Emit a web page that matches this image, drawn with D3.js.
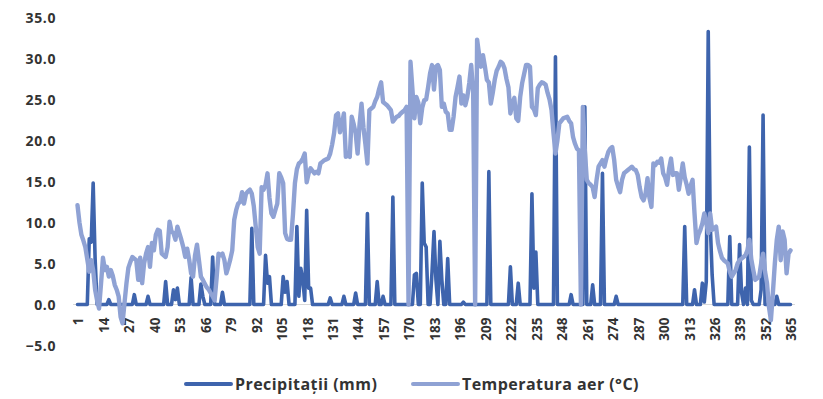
<!DOCTYPE html>
<html>
<head>
<meta charset="utf-8">
<script src="https://cdn.jsdelivr.net/npm/d3@7"></script>
<style>
  html, body { margin: 0; padding: 0; background: #fff; }
  svg text { font-family: "Open Sans", "DejaVu Sans", sans-serif; font-weight: 700; fill: #333; }
</style>
</head>
<body>
<svg id="chart" width="823" height="399"></svg>
<script>
// ---- data ----
const seriesNames = ["Precipitații (mm)", "Temperatura aer (°C)"];
const yTicks = [-5, 0, 5, 10, 15, 20, 25, 30, 35];
const xTickDays = [1,14,27,40,53,66,79,92,105,118,131,144,157,170,183,196,209,222,235,248,261,274,287,300,313,326,339,352,365];

const precipitation = [
  0,0,0,0,0,0,8,7.6,14.8,5.5,
  0,0,0,0,0,0,0.6,0,0,0,
  0,0,0,0,0,0,0,0,0,1.2,
  0,0,0,0,0,0,1,0,0,0,
  0,0,0,0,0,2.8,0,0,0,1.8,
  0.6,2,0,0,0,0,0,0,3.3,0,
  0,0,0,2.5,1,0,0,0,0,5.8,
  0,0,0,0,1.5,0,0,0,0,0,
  0,0,0,0,0,0,0,0,0,9.3,
  0,0,0,0,0,0,6,2.6,3.4,0,
  0,0,0,0,0,3.4,1.5,2.8,0,0,
  0,0,9.5,1,4.4,3,0.5,11.5,2,2,
  0,0,0,0,0,0,0,0,0,0.8,
  0,0,0,0,0,0,1,0,0,0,
  0,0,1.4,0,0,0,0,0,11.1,0,
  0,0,0,2.8,0,0,1,0,0,0,
  0,13.1,0,0,0,0,0,0,0,0,
  0,0,3.6,3.8,0,0,14.8,7.5,7,0,
  0,4,8.9,3,0,7.7,3,0,0,5.6,
  0,0,0,0,0,0,0,0.3,0,0,
  0,0,0,0,0,0,0,0,0,0,
  16.2,0,0,0,0,0,0,0,0,0,
  0,4.6,0,0,0,2.6,0,0,0,0,
  0,0,13.5,2,6.4,0,0,0,0,0,
  0,0,0,0,30.2,0,0,0,0,0,
  0,0,1.2,0,0,0,0,0,0,24.1,
  0,0,0,2.4,0,0,0,0,16,0,
  0,0,0,0,0,1,0,0,0,0,
  0,0,0,0,0,0,0,0,0,0,
  0,0,0,0,0,0,0,0,0,0,
  0,0,0,0,0,0,0,0,0,0,
  9.5,0,0,0,0,1.8,0,0,0,2.6,
  0.3,2.8,33.3,10,3.6,0,0,0,0,0,
  0,0,0,8.3,0,0,0,0,7.3,1.5,
  0,2,0,19.2,0.5,0,0,0,0,1.8,
  23.1,0,0,0,0,0,0,1,0,0,
  0,0,0,0,0
];

const temperature = [
  12.1,10,8.5,7.8,7,5.5,4,5.4,4.2,1.8,
  0.5,-0.5,2.5,5.7,4.2,4.6,3.4,4.2,3.5,2.4,
  1.8,1,-1.5,-2.3,0.2,2.6,4.5,5.2,5.8,5.6,
  5.4,3,5.7,2.6,5,6.2,7,4.6,7.5,6.6,
  8.5,9.1,9,6.2,6,5.8,7,10.1,8.9,8.7,
  7.9,9.5,8.7,7.9,7,5.8,6.8,5.5,3.8,3.4,
  6,7.3,5.4,3.4,3,2.5,2.1,1.8,1.4,1,
  0.5,3.2,6.2,6,6.2,5.4,3.8,4.6,5.5,6.6,
  10.3,11.5,12.3,12.5,13.7,12.3,13.5,13.8,14,13.5,
  12,9.5,7,6.2,14.3,14,14.6,16,13,11.1,
  10.7,11.5,12.3,16,15.5,14.8,8.7,8,7.9,7.9,
  11,14.8,16.5,17.2,17.4,17.8,18.4,14.9,16,16.6,
  16.3,16,16.2,16,17.2,17.4,17.6,17.7,17.8,18.4,
  19.5,20.9,23.1,23.3,21,22,23.3,18,18.2,18,
  22.9,22,20.9,18.4,22,24.5,21.6,19.5,17.2,23.7,
  23.9,24.1,24.8,25.3,26.3,27.1,24.7,24.5,24.3,24,
  23.7,22.3,22.6,22.9,23,23.3,23.5,23.7,24.1,0,
  29.6,26.2,22.7,25.3,24.6,22.1,24,24.9,25,26.5,
  28.2,29.2,26.2,29,29.2,28.6,24.1,24.5,23.5,23.3,
  21.3,21.3,22.9,25.3,26.5,27.8,24.5,25.5,24.3,25.3,
  27,29.2,25.8,0,32.3,30.5,29,30.4,29,27.4,
  27.1,24.5,25.8,27.4,28.5,29,29.6,29.4,28.8,27.5,
  26.5,23.3,24.5,25.2,22.7,22.4,25.3,27,28.1,29.2,
  29.2,29,24.1,23.8,23.1,26.4,26.8,27.1,27,26.8,
  25.8,25,23.7,20.9,18.4,20,22.1,22.4,22.7,22.8,
  22.9,22.4,22.1,20.4,19.6,19,18.8,0,24.1,18.8,
  15.2,14.8,14.6,14.3,13.1,15.2,16.8,17.2,17.6,16.8,
  17.8,18.6,19,19.2,17.6,15.2,14.4,13.7,15.2,16,
  16.2,16.4,16.6,16.8,16.5,16.4,15.8,14.3,13.1,12.7,
  13.5,15.4,13,11.9,17.2,17,17.4,17.3,17.8,16,
  15.5,14.6,16.5,17.8,15.8,16,16,14,15.5,17.2,
  15.5,14.6,13.5,14.5,15.2,11.1,7.5,8.5,9.1,9.9,
  11.1,10,8.7,11.1,9.1,9.3,9.5,7.5,6.5,5.7,
  5.4,5.2,5,4,3.4,3.8,4.2,5,5.4,5.6,
  5.8,6,6.6,7.9,5.5,4.2,3,3.2,3.4,5,
  6.2,4,2.6,-0.3,-1.9,1.4,5,7.9,9.5,5.4,
  8.9,7.9,3.8,6.2,6.6
];

const days = d3.range(1, temperature.length + 1);

// ---- chart ----
const colors = ["#3e64ad", "#8fa2d4"];
const svg = d3.select("#chart");

const x = d3.scaleLinear().domain([1, 365]).range([77.5, 790.5]);
const y = d3.scaleLinear().domain([-5, 35]).range([345.5, 17.5]);

// zero axis line
svg.append("line")
  .attr("x1", 73).attr("x2", 795)
  .attr("y1", y(0)).attr("y2", y(0))
  .attr("stroke", "#d9d9d9").attr("stroke-width", 1);

// y axis labels
const yAxis = d3.axisLeft(y).tickValues(yTicks).tickFormat(d3.format(".1f")).tickSize(0).tickPadding(0);
const yg = svg.append("g").attr("transform", "translate(56,0)").call(yAxis);
yg.select(".domain").remove();
yg.selectAll("text")
  .attr("font-size", 14).attr("letter-spacing", "0.6px")
  .attr("font-family", null).attr("fill", null)
  .attr("dy", "0.38em").attr("x", 0);

// x axis labels (rotated)
const xg = svg.append("g");
xg.selectAll("text").data(xTickDays).enter().append("text")
  .attr("transform", d => `translate(${x(d) + 1},${y(0) + 13}) rotate(-90)`)
  .attr("text-anchor", "end")
  .attr("dy", "0.36em")
  .attr("font-size", 13.5)
  .text(d => d);

// lines
const line = vals => d3.line()
  .x((d, i) => x(days[i]))
  .y(d => y(d))(vals);

svg.append("path")
  .attr("d", line(precipitation))
  .attr("fill", "none").attr("stroke", colors[0])
  .attr("stroke-width", 3.6).attr("stroke-linejoin", "round").attr("stroke-linecap", "round");

svg.append("path")
  .attr("d", line(temperature))
  .attr("fill", "none").attr("stroke", colors[1])
  .attr("stroke-width", 4.4).attr("stroke-linejoin", "round").attr("stroke-linecap", "round");

// legend
const legendItems = [
  { name: seriesNames[0], color: colors[0], x: 186 },
  { name: seriesNames[1], color: colors[1], x: 413 }
];
const lg = svg.append("g");
legendItems.forEach(it => {
  lg.append("line")
    .attr("x1", it.x).attr("x2", it.x + 45)
    .attr("y1", 384).attr("y2", 384)
    .attr("stroke", it.color).attr("stroke-width", 4).attr("stroke-linecap", "round");
  lg.append("text")
    .attr("x", it.x + 49).attr("y", 384).attr("dy", "0.36em")
    .attr("font-size", 16).attr("letter-spacing", "0.45px")
    .text(it.name);
});
</script>
</body>
</html>
